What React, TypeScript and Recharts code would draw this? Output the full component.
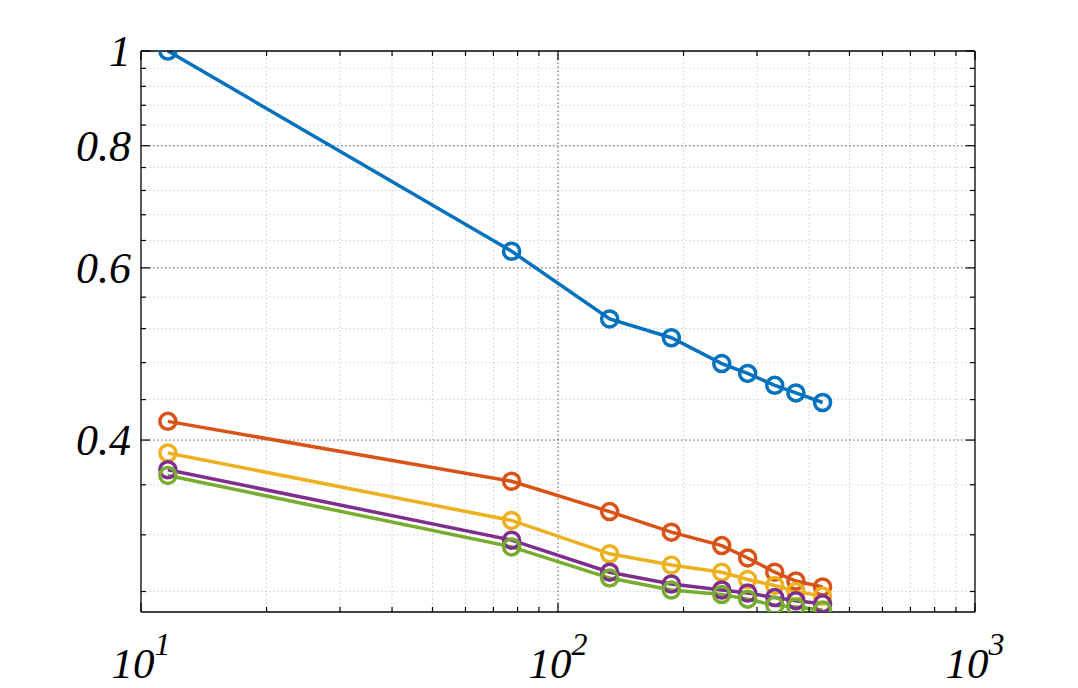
import { LineChart, Line, XAxis, YAxis, ReferenceLine } from 'recharts';

// ─── Data (log-log axes) ─────────────────────────────────────────────────────

const xValues = [11.6, 77.4, 133, 187, 247, 285, 331, 372, 431];

const seriesBlue = [1.0, 0.624, 0.532, 0.509, 0.479, 0.468, 0.455, 0.447, 0.437];
const seriesRed = [0.418, 0.363, 0.338, 0.322, 0.312, 0.303, 0.293, 0.287, 0.283];
const seriesYellow = [0.388, 0.331, 0.306, 0.298, 0.293, 0.288, 0.284, 0.28, 0.277];
const seriesPurple = [0.373, 0.316, 0.293, 0.285, 0.281, 0.279, 0.276, 0.274, 0.272];
const seriesGreen = [0.368, 0.311, 0.289, 0.281, 0.278, 0.275, 0.271, 0.27, 0.268];

const xMajorTicks = [10, 100, 1000];
const xMinorTicks = [20, 30, 40, 50, 60, 70, 80, 90, 200, 300, 400, 500, 600, 700, 800, 900];
const yMajorTicks = [0.4, 0.6, 0.8, 1];
const yMinorTicks = [0.28, 0.32, 0.36, 0.44, 0.48, 0.52, 0.56, 0.64, 0.68, 0.72, 0.76, 0.84, 0.88, 0.92, 0.96];

const X_DOMAIN: [number, number] = [10, 1000];
const Y_DOMAIN: [number, number] = [0.2668, 1];

// ─── Styles ──────────────────────────────────────────────────────────────────

const COLORS = ['#0072BD', '#D95319', '#EDB120', '#7E2F8E', '#77AC30'];
const FONT = '"Liberation Serif", "Times New Roman", serif';
const AXIS_STROKE = { stroke: '#000', strokeWidth: 1.3 };
const MAJOR_LEN = 9;
const MINOR_LEN = 5;

const data = xValues.map((x, i) => ({
  x,
  s1: seriesBlue[i],
  s2: seriesRed[i],
  s3: seriesYellow[i],
  s4: seriesPurple[i],
  s5: seriesGreen[i],
}));

// ─── Tick renderers (MATLAB style: inward ticks, italic labels) ─────────────

type TickProps = { x?: number; y?: number; payload?: { value: number } };

function BottomTick({ x = 0, y = 0, payload }: TickProps) {
  const v = payload?.value ?? 0;
  const major = xMajorTicks.includes(v);
  return (
    <g>
      <line x1={x} y1={y} x2={x} y2={y - (major ? MAJOR_LEN : MINOR_LEN)} stroke="#000" strokeWidth={1.2} />
      {major && (
        <text x={x} y={y + 66} textAnchor="middle" fontFamily={FONT} fontStyle="italic" fontSize={43} fill="#000">
          <tspan>10</tspan>
          <tspan dy={-23} fontSize={32}>{Math.round(Math.log10(v))}</tspan>
        </text>
      )}
    </g>
  );
}

function TopTick({ x = 0, y = 0, payload }: TickProps) {
  const major = xMajorTicks.includes(payload?.value ?? 0);
  return <line x1={x} y1={y} x2={x} y2={y + (major ? MAJOR_LEN : MINOR_LEN)} stroke="#000" strokeWidth={1.2} />;
}

function LeftTick({ x = 0, y = 0, payload }: TickProps) {
  const v = payload?.value ?? 0;
  const major = yMajorTicks.includes(v);
  return (
    <g>
      <line x1={x} y1={y} x2={x + (major ? MAJOR_LEN : MINOR_LEN)} y2={y} stroke="#000" strokeWidth={1.2} />
      {major && (
        <text x={x - 10} y={y + 15} textAnchor="end" fontFamily={FONT} fontStyle="italic" fontSize={44} fill="#000">
          {String(v)}
        </text>
      )}
    </g>
  );
}

function RightTick({ x = 0, y = 0, payload }: TickProps) {
  const major = yMajorTicks.includes(payload?.value ?? 0);
  return <line x1={x} y1={y} x2={x - (major ? MAJOR_LEN : MINOR_LEN)} y2={y} stroke="#000" strokeWidth={1.2} />;
}

// ─── Chart ───────────────────────────────────────────────────────────────────

export default function App() {
  const xTicks = [...xMajorTicks, ...xMinorTicks];
  const yTicks = [...yMajorTicks, ...yMinorTicks];

  return (
    <div style={{ position: 'absolute', left: 0, top: 0, width: 1078, height: 688, background: '#fff' }}>
      <LineChart width={1078} height={688} data={data} margin={{ top: 50, right: 102, bottom: 0, left: 0 }}>
        <XAxis
          dataKey="x"
          type="number"
          scale="log"
          domain={X_DOMAIN}
          allowDataOverflow
          ticks={xTicks}
          interval={0}
          height={76}
          tickSize={0}
          tickMargin={0}
          tickLine={false}
          axisLine={AXIS_STROKE}
          tick={<BottomTick />}
        />
        <XAxis
          xAxisId="top"
          orientation="top"
          dataKey="x"
          type="number"
          scale="log"
          domain={X_DOMAIN}
          allowDataOverflow
          ticks={xTicks}
          interval={0}
          height={1}
          tickSize={0}
          tickMargin={0}
          tickLine={false}
          axisLine={AXIS_STROKE}
          tick={<TopTick />}
        />
        <YAxis
          type="number"
          scale="log"
          domain={Y_DOMAIN}
          allowDataOverflow
          ticks={yTicks}
          interval={0}
          width={141}
          tickSize={0}
          tickMargin={0}
          tickLine={false}
          axisLine={AXIS_STROKE}
          tick={<LeftTick />}
        />
        <YAxis
          yAxisId="right"
          orientation="right"
          type="number"
          scale="log"
          domain={Y_DOMAIN}
          allowDataOverflow
          ticks={yTicks}
          interval={0}
          width={1}
          tickSize={0}
          tickMargin={0}
          tickLine={false}
          axisLine={AXIS_STROKE}
          tick={<RightTick />}
        />

        {/* minor grid */}
        {xMinorTicks.map((v) => (
          <ReferenceLine key={`xm-${v}`} x={v} stroke="#cfcfcf" strokeWidth={1} strokeDasharray="1.5 2.5" />
        ))}
        {yMinorTicks.map((v) => (
          <ReferenceLine key={`ym-${v}`} y={v} stroke="#cfcfcf" strokeWidth={1} strokeDasharray="1.5 2.5" />
        ))}
        {/* major grid */}
        <ReferenceLine x={100} stroke="#555" strokeWidth={1} strokeDasharray="1.5 2.5" />
        {yMajorTicks
          .filter((v) => v < 1)
          .map((v) => (
            <ReferenceLine key={`yM-${v}`} y={v} stroke="#555" strokeWidth={1} strokeDasharray="1.5 2.5" />
          ))}

        {['s1', 's2', 's3', 's4', 's5'].map((key, i) => (
          <Line
            key={key}
            type="linear"
            dataKey={key}
            stroke={COLORS[i]}
            strokeWidth={3.5}
            dot={{ r: 8, stroke: COLORS[i], strokeWidth: 3.5, fill: 'none' }}
            activeDot={false}
            isAnimationActive={false}
          />
        ))}
      </LineChart>
    </div>
  );
}
